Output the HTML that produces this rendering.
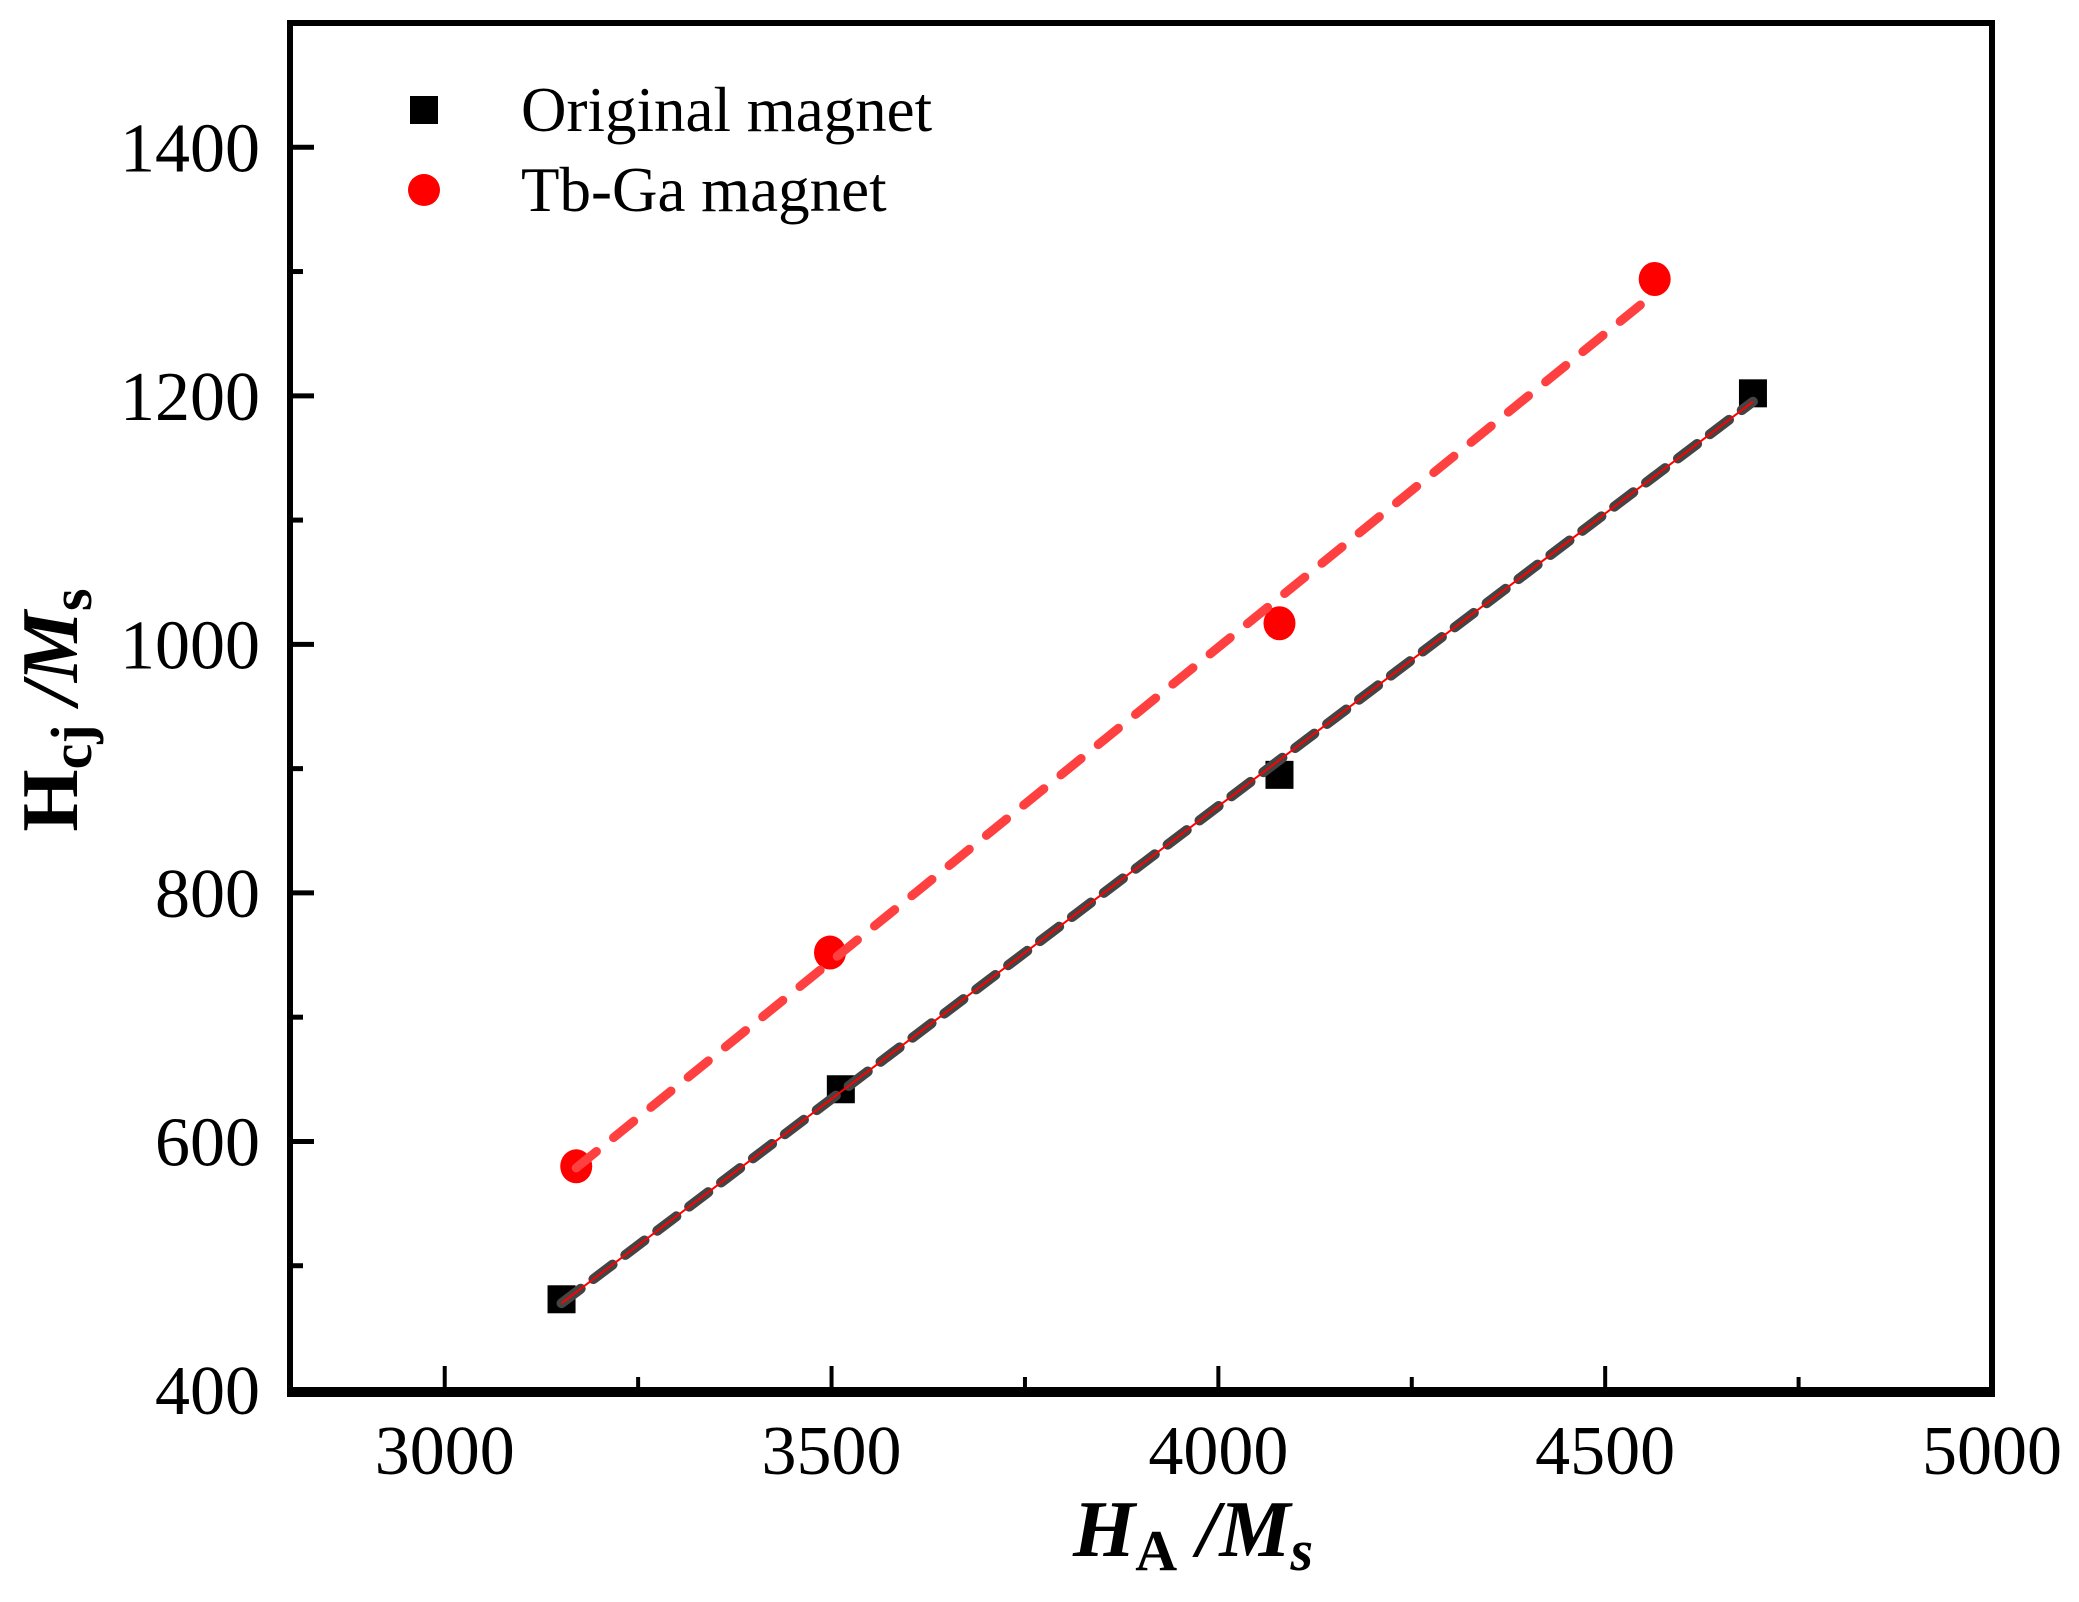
<!DOCTYPE html>
<html><head><meta charset="utf-8">
<style>
html,body{margin:0;padding:0;background:#fff;}
svg{display:block;font-family:"Liberation Serif",serif;}
</style></head>
<body>
<svg id="chart" width="2079" height="1602" viewBox="0 0 2079 1602" xmlns="http://www.w3.org/2000/svg">
<g id="plot"></g>
<g>
  <rect x="410" y="96" width="28" height="28" fill="#000"/>
  <text x="521" y="131" font-size="63">Original magnet</text>
  <ellipse cx="424" cy="190" rx="16" ry="16" fill="#ff0000"/>
  <text x="521" y="211" font-size="63">Tb-Ga magnet</text>
</g>
<text x="1193" y="1556" font-size="80" font-weight="bold" font-style="italic" text-anchor="middle">H<tspan font-size="58" dy="14" font-style="normal">A</tspan><tspan dy="-14"> /M</tspan><tspan font-size="58" dy="14">s</tspan></text>
<text transform="translate(77,710) rotate(-90)" font-size="80" font-weight="bold" text-anchor="middle">H<tspan font-size="58" dy="14">cj</tspan><tspan dy="-14" font-style="italic"> /M</tspan><tspan font-size="58" dy="14">s</tspan></text>
</svg>
<script>
const xTicks = [3000, 3500, 4000, 4500, 5000];
const yTicks = [400, 600, 800, 1000, 1200, 1400];
const origX = [3151, 3512, 4079, 4691];
const origY = [473, 642, 895, 1202];
const tbX = [3170, 3498, 4079, 4564];
const tbY = [580, 752, 1017, 1294];

const L = 290, R = 1992, T = 23, B = 1390;
const xMin = 2800, xMax = 5000, yMin = 400, yMax = 1500;
function sx(v){ return L + (v - xMin) / (xMax - xMin) * (R - L); }
function sy(v){ return B - (v - yMin) / (yMax - yMin) * (B - T); }
const NS = 'http://www.w3.org/2000/svg';
const g = document.getElementById('plot');
function mk(tag, attrs){ const e = document.createElementNS(NS, tag); for (const k in attrs) e.setAttribute(k, attrs[k]); g.appendChild(e); return e; }

for (let v = 3000; v <= 4750; v += 250) {
  const major = xTicks.includes(v);
  const t = mk('line', {x1: sx(v), x2: sx(v), y1: B, y2: B - (major ? 24 : 13), stroke: '#000', 'stroke-width': 4});
  
  
}
xTicks.forEach(v => {
  const t = mk('text', {x: sx(v), y: 1474, 'font-size': 70, 'text-anchor': 'middle'});
  t.textContent = v;
  
  
});
for (let v = 500; v <= 1400; v += 100) {
  const major = yTicks.includes(v);
  const t = mk('line', {x1: L, x2: L + (major ? 24 : 13), y1: sy(v), y2: sy(v), stroke: '#000', 'stroke-width': 5});
  
  
}
yTicks.forEach(v => {
  const t = mk('text', {x: 260, y: sy(v) + 24, 'font-size': 70, 'text-anchor': 'end'});
  t.textContent = v;
  
  
});

origX.forEach((x, i) => {
  const r = mk('rect', {x: sx(x) - 14, y: sy(origY[i]) - 14, width: 28, height: 28, fill: '#000'});
  
  
});
tbX.forEach((x, i) => {
  const c = mk('ellipse', {cx: sx(x), cy: sy(tbY[i]), rx: 16, ry: 17, fill: '#ff0000'});
  
  
});

function fit(xs, ys){
  const n = xs.length; let mx = 0, my = 0;
  xs.forEach((x,i)=>{mx+=x; my+=ys[i];}); mx/=n; my/=n;
  let num=0, den=0; xs.forEach((x,i)=>{num+=(x-mx)*(ys[i]-my); den+=(x-mx)*(x-mx);});
  const b = num/den, a = my - b*mx;
  const x0 = Math.min(...xs), x1 = Math.max(...xs);
  return [x0, a + b*x0, x1, a + b*x1];
}
const fo = fit(origX, origY);
const fb = fit(tbX, tbY);
const l1 = mk('line', {x1: sx(fo[0]), y1: sy(fo[1]), x2: sx(fo[2]), y2: sy(fo[3]), stroke: '#444', 'stroke-width': 10, 'stroke-dasharray': '24 16', 'stroke-linecap': 'round'});


const l2 = mk('line', {x1: sx(fo[0]), y1: sy(fo[1]), x2: sx(fo[2]), y2: sy(fo[3]), stroke: '#ff0000', 'stroke-width': 2});


const l3 = mk('line', {x1: sx(fb[0]), y1: sy(fb[1]), x2: sx(fb[2]), y2: sy(fb[3]), stroke: '#ff4040', 'stroke-width': 9, 'stroke-dasharray': '26 22', 'stroke-linecap': 'round'});



const fr = mk('rect', {x: L, y: T, width: R - L, height: B - T, fill: 'none', stroke: '#000', 'stroke-width': 6});


const bx = mk('line', {x1: L - 3, x2: R + 3, y1: B + 2, y2: B + 2, stroke: '#000', 'stroke-width': 10});


</script>
</body></html>
